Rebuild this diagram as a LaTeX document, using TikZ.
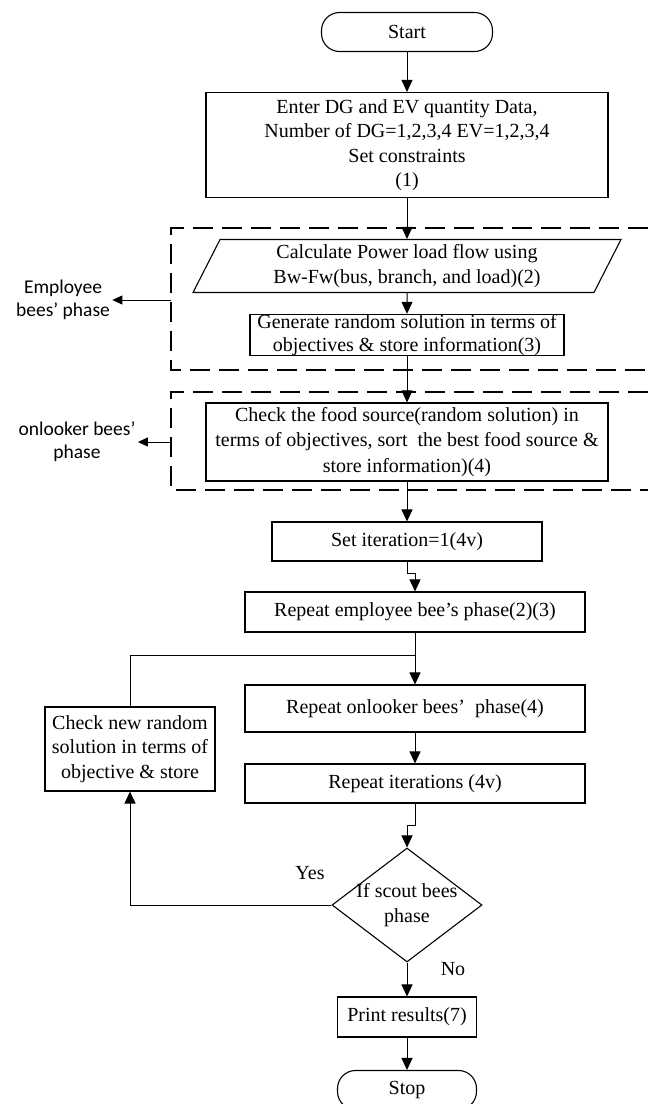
\documentclass[tikz,border=0pt]{standalone}
\usepackage{fontspec}
\setmainfont{Liberation Serif}
\newfontfamily\labelfont{Carlito}
\usetikzlibrary{shapes.geometric,arrows.meta}
\tikzset{
  box/.style={draw,line width=1.1pt,align=center,inner sep=2pt,
    font=\fontsize{20}{24.5}\selectfont},
  term/.style={box,rounded corners=18pt,minimum width=171pt,minimum height=39pt},
  flow/.style={box,trapezium,trapezium left angle=60,trapezium right angle=120,
    trapezium stretches body,minimum width=428pt,minimum height=53pt},
  decision/.style={box,diamond,inner sep=0pt,minimum width=150pt,minimum height=114pt},
  phase/.style={align=center,inner sep=2pt,font=\labelfont\fontsize{19.5}{23}\selectfont},
  phaseframe/.style={line width=1.1pt,dash pattern=on 20pt off 9pt},
  answer/.style={font=\fontsize{20}{24}\selectfont}
}
\begin{document}
\begin{tikzpicture}[x=1pt,y=-1pt,line width=1pt,>={Triangle[length=12pt,width=11pt]}]
  \useasboundingbox (0,0) rectangle (648,1104);
  \fill[white] (0,0) rectangle (648,1104);

  \draw[phaseframe] (648,228) -- (171,228) -- (171,370) -- (648,370);
  \draw[phaseframe] (648,392) -- (171,392) -- (171,490) -- (648,490);

  \node[term] (start) at (407,32) {Start};
  \node[box,minimum width=402pt,minimum height=105pt] (input) at (407,145)
    {Enter DG and EV quantity Data,\\Number of DG=1,2,3,4 EV=1,2,3,4\\Set constraints\\(1)};
  \node[flow] (loadflow) at (407,266)
    {Calculate Power load flow using\\Bw-Fw(bus, branch, and load)(2)};
  \node[box,inner sep=0pt,minimum width=314pt,minimum height=40pt,
    font=\fontsize{20}{23}\selectfont] (random) at (407,335)
    {Generate random solution in terms of\\objectives \& store information(3)};
  \node[box,minimum width=402pt,minimum height=78pt,
    font=\fontsize{20}{25.5}\selectfont] (food) at (407,442)
    {Check the food source(random solution) in\\terms of objectives, sort~ the best food source \&\\store information)(4)};
  \node[box,minimum width=270pt,minimum height=39pt] (iter) at (407,541.5) {Set iteration=1(4v)};
  \node[box,minimum width=340pt,minimum height=40pt] (employ) at (415,612)
    {Repeat employee bee's phase(2)(3)};
  \node[box,minimum width=340pt,minimum height=47pt] (onlook) at (415,708.5)
    {Repeat onlooker bees'~ phase(4)};
  \node[box,minimum width=340pt,minimum height=39pt] (repeat) at (415,783.5)
    {Repeat iterations (4v)};
  \node[box,minimum width=170pt,minimum height=84pt] (newsol) at (130,749)
    {Check new random\\solution in terms of\\objective \& store};
  \node[decision] (scout) at (407,905)
    {\makebox[0pt]{If scout bees}\\\makebox[0pt]{phase}};
  \node[box,minimum width=139pt,minimum height=40pt] (print) at (407,1017) {Print results(7)};
  \node[term,minimum width=139pt] (stop) at (407,1090) {Stop};

  \node[phase] (employee) at (63,300) {Employee\\bees’ phase};
  \node[phase] (onlooker) at (77,442) {onlooker bees’\\phase};
  \node[answer] (yes) at (310,873) {Yes};
  \node[answer] (no) at (453,969) {No};

  \coordinate (empframe) at (171,300);
  \coordinate (onlframe) at (171,442);
  \coordinate (join) at (415,655);

  \draw[->] (start) -- (input);
  \draw[->] (input) -- (loadflow);
  \draw[->] (loadflow) -- (random);
  \draw[->] (random) -- (food);
  \draw[->] (food) -- (iter);
  \draw[->] (iter.south) -- ++(0,12) -| (employ.north);
  \draw[->] (employ) -- (onlook);
  \draw (newsol.north) |- (join);
  \draw[->] (onlook) -- (repeat);
  \draw[->] (repeat.south) -- ++(0,22) -| (scout.north);
  \draw[->] (scout.west) -| (newsol.south);
  \draw[->] (scout) -- (print);
  \draw[->] (print) -- (stop);
  \draw[->,>={Triangle[length=10pt,width=9pt]}] (empframe) -- (employee.east);
  \draw[->,>={Triangle[length=10pt,width=9pt]}] (onlframe) -- (onlooker.east);

\end{tikzpicture}
\end{document}
